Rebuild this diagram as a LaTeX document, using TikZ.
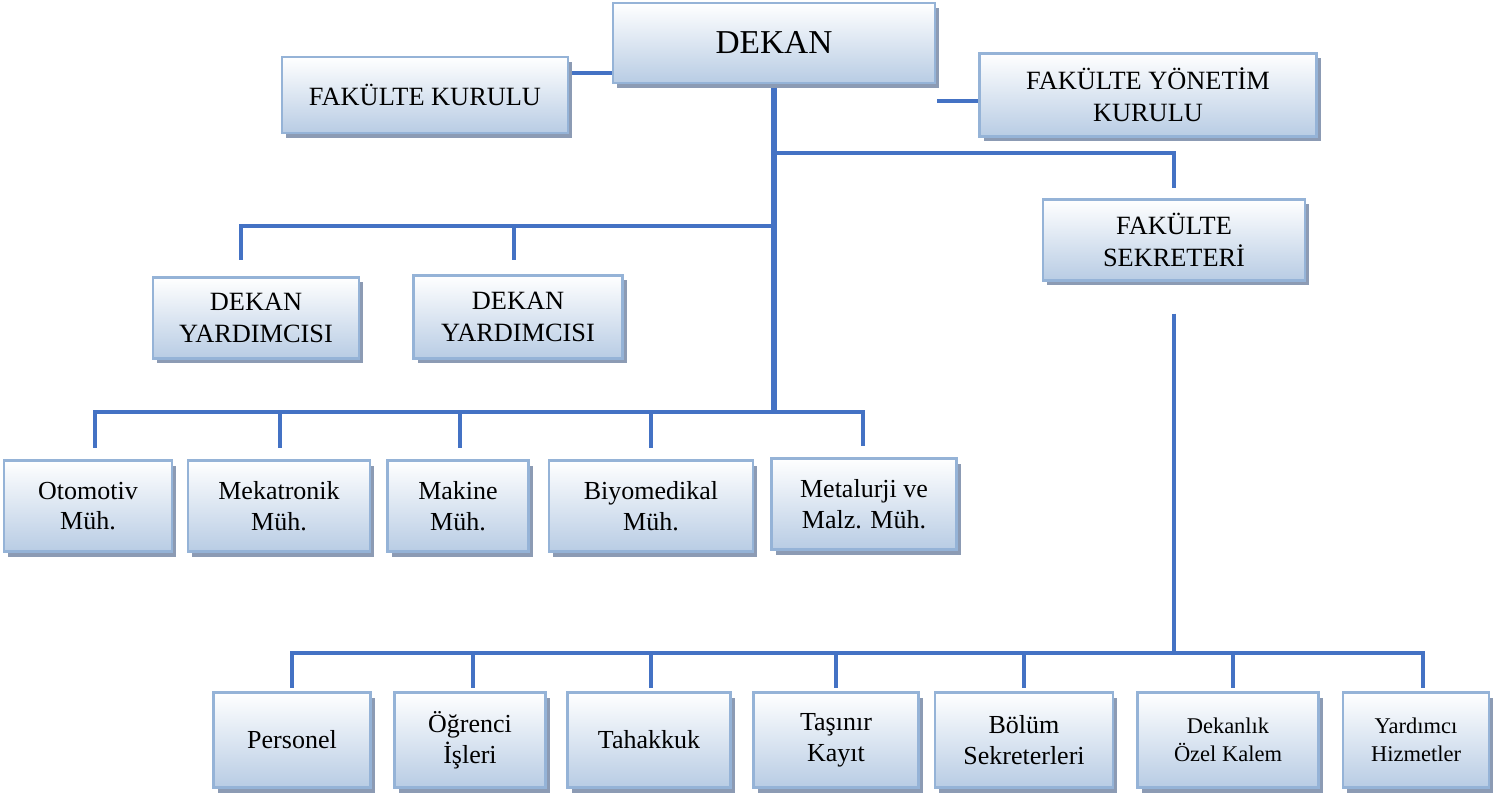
\documentclass[tikz,border=0pt]{standalone}
\usepackage{fontspec}
\setmainfont{Liberation Serif}
\usetikzlibrary{positioning, shadows, backgrounds}
\newlength{\Px}
\setlength\Px{0.02cm}
\definecolor{linkblue}{RGB}{68,114,196}
\definecolor{boxedge}{RGB}{149,179,215}
\definecolor{boxfill}{RGB}{184,204,228}
\definecolor{boxshade}{RGB}{140,155,180}

\begin{document}
\begin{tikzpicture}[
    x = 0.02cm, y = -0.02cm, align = center,
    unit/.style = {rectangle, draw = boxedge, line width = 1.2pt, inner sep = 0pt,
        top color = white, bottom color = boxfill,
        drop shadow = {shadow xshift = 4*\Px, shadow yshift = -5*\Px, fill = boxshade, opacity = 1},
        font = \fontsize{15}{18}\selectfont},
    dept/.style = {unit, minimum height = 91*\Px, font = \fontsize{14.8}{17.5}\selectfont},
    office/.style = {unit, minimum height = 95*\Px, font = \fontsize{14.8}{17.5}\selectfont},
    link/.style = {draw = linkblue, line width = 2pt},
    trunk/.style = {draw = linkblue, line width = 3.2pt},
    ]
    \useasboundingbox (0,0) rectangle (1502,797);

    % top level
    \node [unit, minimum width = 322*\Px, minimum height = 80*\Px, font = \fontsize{19}{22}\selectfont] (dekan) at (774,43) {DEKAN};
    \node [unit, minimum width = 286*\Px, minimum height = 76*\Px] (fk)  at (425,95)  {FAKÜLTE KURULU};
    \node [unit, minimum width = 337*\Px, minimum height = 83*\Px] (fyk) at (1148,95) {FAKÜLTE YÖNETİM\\KURULU};
    \node [unit, minimum width = 262*\Px, minimum height = 81*\Px] (fs)  at (1174,240) {FAKÜLTE\\SEKRETERİ};

    % deputies
    \node [unit, minimum width = 206*\Px, minimum height = 81*\Px] (dy1) at (256,318) {DEKAN\\YARDIMCISI};
    \node [unit, minimum width = 209*\Px, minimum height = 83*\Px] (dy2) at (518,317) {DEKAN\\YARDIMCISI};

    % departments
    \node [dept, minimum width = 168*\Px] (oto) at (88,506)  {Otomotiv\\Müh.};
    \node [dept, minimum width = 182*\Px] (mek) at (279,506) {Mekatronik\\Müh.};
    \node [dept, minimum width = 141*\Px] (mak) at (458,506) {Makine\\Müh.};
    \node [dept, minimum width = 204*\Px] (biy) at (651,506) {Biyomedikal\\Müh.};
    \node [dept, minimum width = 185*\Px] (met) at (864,504) {Metalurji ve\\Malz. Müh.};

    % secretariat units
    \node [office, minimum width = 157*\Px] (per) at (292,740)  {Personel};
    \node [office, minimum width = 151*\Px] (ogr) at (470,740)  {Öğrenci\\İşleri};
    \node [office, minimum width = 163*\Px] (tah) at (649,740)  {Tahakkuk};
    \node [office, minimum width = 165*\Px] (tas) at (836,740)  {Taşınır\\Kayıt};
    \node [office, minimum width = 178*\Px] (bol) at (1024,740) {Bölüm\\Sekreterleri};
    \node [office, minimum width = 181*\Px, font = \fontsize{12.8}{16}\selectfont] (dek) at (1228,740) {Dekanlık\\Özel Kalem};
    \node [office, minimum width = 146*\Px, font = \fontsize{12.8}{16}\selectfont] (yar) at (1416,740) {Yardımcı\\Hizmetler};

    % draw paths
    \begin{scope}[on background layer]
        \coordinate (b1) at (dekan.south |- 0,153);
        \coordinate (b2) at (dekan.south |- 0,226);
        \coordinate (b3) at (dekan.south |- 0,412);
        \coordinate (b4) at (fs.south |- 0,653);
        \coordinate (fykin) at (937,101);
        \coordinate (fsout) at ([yshift = -32*\Px]fs.south);

        \draw [link] ([yshift = -30*\Px]dekan.west) -- (fk.east |- 0,73);
        \draw [link] (fykin) -- (fyk.west |- fykin);
        \draw [trunk] (dekan.south) -- (b3);
        \draw [link] (b1) -| ([yshift = 10*\Px]fs.north);
        \draw [link] (b2) -| ([xshift = -15*\Px, yshift = 16*\Px]dy1.north);
        \draw [link] (b2) -| ([xshift = -4*\Px, yshift = 14*\Px]dy2.north);
        \foreach \n/\dx in {oto/7, mek/1, mak/2, biy/0, met/-1}
            \draw [link] (b3) -| ([xshift = \dx*\Px, yshift = 11*\Px]\n.north);
        \draw [link] (fsout) -- (b4);
        \foreach \n/\dx in {per/0, ogr/3, tah/2, tas/0, bol/0, dek/5, yar/7}
            \draw [link] (b4) -| ([xshift = \dx*\Px, yshift = 3*\Px]\n.north);
    \end{scope}
\end{tikzpicture}
\end{document}
